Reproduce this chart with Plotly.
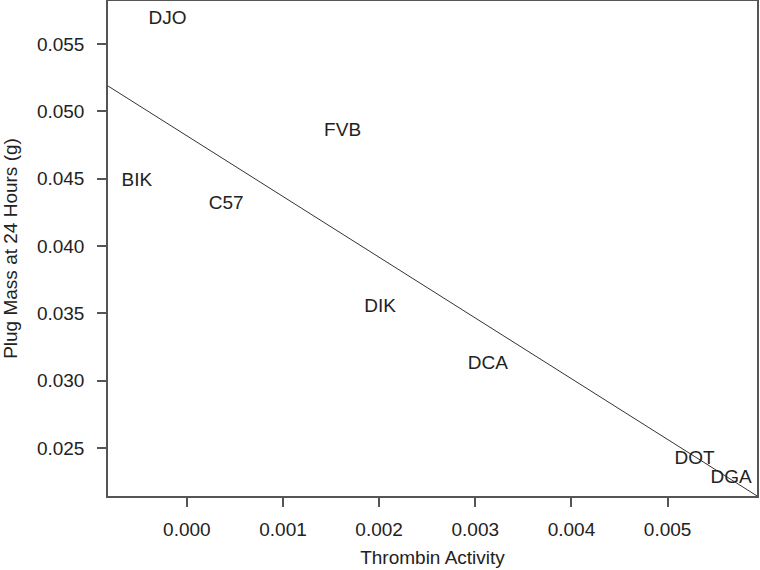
import numpy as np
import plotly.graph_objects as go

# strain labels and their coordinates
strains = ['DJO', 'FVB', 'BIK', 'C57', 'DIK', 'DCA', 'DOT', 'DGA']
thrombin = [-0.00020, 0.00162, -0.00052, 0.00041, 0.00201, 0.00313, 0.00528, 0.00566]
plug_mass = [0.05685, 0.04856, 0.04485, 0.04307, 0.03544, 0.03122, 0.02419, 0.02278]

# fitted line as drawn in the picture (abline of lm)
fit_intercept = 0.04819
fit_slope = -4.51

x_ticks = [0.000, 0.001, 0.002, 0.003, 0.004, 0.005]
y_ticks = [0.025, 0.030, 0.035, 0.040, 0.045, 0.050, 0.055]
x_range = [-0.00082, 0.00593]
y_range = [0.02144, 0.0582]

line_x = np.array(x_range)
line_y = fit_intercept + fit_slope * line_x

font = 'Liberation Sans, Arial, sans-serif'
ink = '#222222'
fsize = 19

fig = go.Figure()
fig.add_trace(go.Scatter(x=line_x, y=line_y, mode='lines',
                         line=dict(color='#333333', width=1), hoverinfo='skip'))
fig.add_trace(go.Scatter(x=thrombin, y=plug_mass, mode='text', text=strains,
                         textposition='middle center', cliponaxis=False,
                         textfont=dict(family=font, size=fsize, color=ink)))

axis_common = dict(showgrid=False, zeroline=False, showline=True, mirror=True,
                   linecolor='#555555', linewidth=1.5, ticks='outside', ticklen=9,
                   tickcolor='#555555', tickwidth=1.5, automargin=False,
                   tickfont=dict(family=font, size=fsize, color=ink))

fig.update_xaxes(range=x_range, tickvals=x_ticks, tickformat='.3f',
                 ticklabelstandoff=6,
                 title=dict(text='Thrombin Activity', standoff=12,
                            font=dict(family=font, size=fsize, color=ink)),
                 **axis_common)
fig.update_yaxes(range=y_range, tickvals=y_ticks, tickformat='.3f',
                 ticklabelstandoff=9,
                 title=dict(text='Plug Mass at 24 Hours (g)', standoff=16,
                            font=dict(family=font, size=fsize, color=ink)),
                 **axis_common)

fig.update_layout(width=760, height=570, showlegend=False,
                  plot_bgcolor='white', paper_bgcolor='white',
                  margin=dict(l=108, r=3, t=1, b=74))

# drop the page's default body margin so the figure sits at the corner
fig.write_html('out.html', config={'displayModeBar': False},
               post_script="document.body.style.margin='0';")
